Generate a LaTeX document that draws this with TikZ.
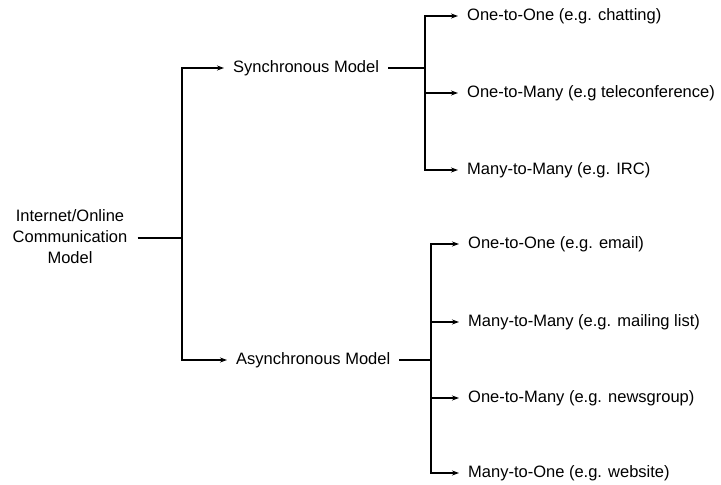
\documentclass[tikz,border=0pt]{standalone}
\usepackage{fontspec}
\setmainfont{Liberation Sans}
\usetikzlibrary{arrows.meta}
\begin{document}
\begin{tikzpicture}[x=1pt,y=-1pt,
  lbl/.style={font=\fontsize{16.5}{21}\selectfont, inner xsep=9pt, inner ysep=0pt, anchor=west},
  conn/.style={line width=1.1pt, black},
  arr/.style={conn, -{Stealth[length=7pt,width=5pt]}}]
\useasboundingbox (0,0) rectangle (721,485);
% root
\node[font=\fontsize{16.5}{21}\selectfont, align=center, inner xsep=10pt, inner ysep=0pt] (root) at (70,237) {Internet/Online\\Communication\\Model};
\coordinate (j1) at (182,238);
% level 1
\node[lbl] (sync) at (224,68) {Synchronous Model};
\node[lbl] (async) at (227,360) {Asynchronous Model};
\coordinate (j2) at (425,68);
\coordinate (j3) at (431,360);
% sync children
\node[lbl] (s1) at (458,16) {One-to-One (e.g. chatting)};
\node[lbl] (s2) at (458,93) {One-to-Many (e.g teleconference)};
\node[lbl] (s3) at (458,170) {Many-to-Many (e.g. IRC)};
% async children
\node[lbl] (a1) at (459,244) {One-to-One (e.g. email)};
\node[lbl] (a2) at (459,322) {Many-to-Many (e.g. mailing list)};
\node[lbl] (a3) at (459,398) {One-to-Many (e.g. newsgroup)};
\node[lbl] (a4) at (459,473) {Many-to-One (e.g. website)};
% connectors
\draw[conn] (root.east |- j1) -- (j1);
\draw[arr] (j1) |- (sync.west);
\draw[arr] (j1) |- (async.west);
\draw[conn] (sync.east) -- (j2);
\draw[conn] (async.east) -- (j3);
\draw[arr] (j2) |- (s1.west);
\draw[arr] (j2) |- (s2.west);
\draw[arr] (j2) |- (s3.west);
\draw[arr] (j3) |- (a1.west);
\draw[arr] (j3) |- (a2.west);
\draw[arr] (j3) |- (a3.west);
\draw[arr] (j3) |- (a4.west);
\end{tikzpicture}
\end{document}
